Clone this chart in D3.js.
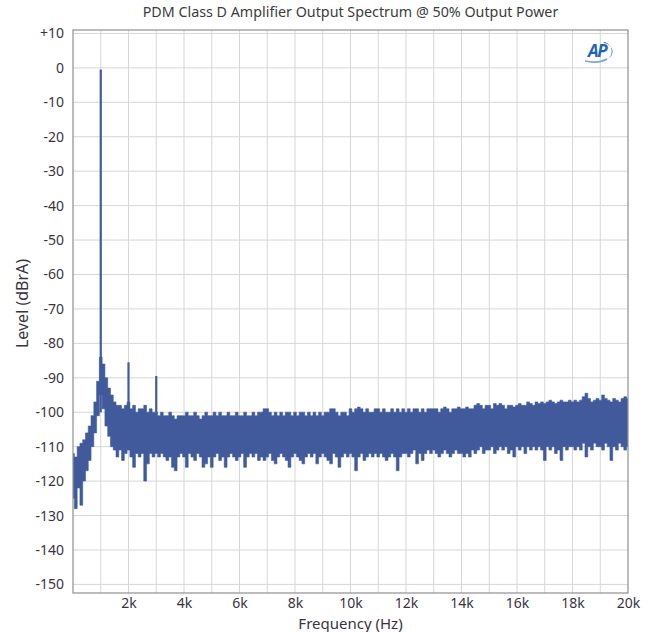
<!DOCTYPE html>
<html>
<head>
<meta charset="utf-8">
<script src="https://cdn.jsdelivr.net/npm/d3@7"></script>
<style>
  body { margin: 0; background: #fff; }
  svg text { font-family: "Noto Sans", "Open Sans", sans-serif; }
</style>
</head>
<body>
<div id="chart"></div>
<script>
// spectrum: one upper and one lower envelope value per 100 Hz bin
const binHz = 100;
const upperDb = [
  -112, -113, -110, -109, -108, -106, -104, -101, -97, -91,
  -84, -86, -90, -93, -95, -97, -98, -98, -99, -98,
  -97, -99, -98, -100, -99, -99, -98, -100, -99, -100,
  -100, -101, -100, -101, -101, -100, -101, -102, -101, -101,
  -101, -100, -101, -101, -100, -101, -102, -101, -100, -101,
  -101, -100, -101, -100, -101, -101, -100, -101, -101, -100,
  -101, -101, -100, -101, -101, -100, -101, -100, -100, -99,
  -99, -100, -101, -100, -101, -100, -101, -100, -100, -101,
  -100, -101, -100, -100, -101, -100, -101, -100, -101, -100,
  -101, -100, -100, -99, -99, -100, -101, -100, -100, -101,
  -99, -100, -99, -98.5, -99, -100, -99, -100, -100, -99,
  -99, -100, -99, -100, -100, -99, -100, -99, -100, -99,
  -100, -99, -100, -99, -99, -100, -99, -100, -99, -99,
  -99, -99, -100, -99, -98.5, -99, -100, -99, -99, -98.5,
  -99, -99, -98.5, -99, -99, -98, -97.5, -98, -99, -98,
  -98, -99, -97.5, -98, -97.5, -98, -99, -98, -98, -98.5,
  -98, -97.5, -98, -98, -97, -97.5, -98, -97, -97.5, -97,
  -97.5, -97, -96.5, -97, -97.5, -97, -96.5, -97, -97, -96.5,
  -97, -96.5, -97, -96.5, -95.5, -94.5, -96, -97, -96.5, -96,
  -96.5, -95, -96, -96.5, -97, -96, -96.5, -97, -96, -95.5,
  -96
];
const lowerDb = [
  -125, -128, -122, -127, -120, -117, -114, -110, -106, -101,
  -95, -99, -104, -107, -110, -111, -113, -111, -114, -112,
  -111, -113, -116, -112, -113, -112, -120, -115, -112, -113,
  -112, -113, -112, -113, -114, -113, -116, -117, -113, -112,
  -113, -116, -112, -113, -114, -112, -113, -116, -115, -113,
  -116, -113, -112, -114, -113, -116, -113, -112, -113, -114,
  -113, -112, -116, -113, -112, -113, -112, -114, -113, -114,
  -113, -112, -114, -115, -113, -112, -113, -114, -116, -113,
  -112, -113, -114, -115, -113, -112, -113, -112, -115, -113,
  -112, -113, -114, -115, -112, -113, -116, -113, -112, -113,
  -112, -113, -117, -113, -112, -114, -113, -112, -113, -112,
  -113, -112, -113, -114, -113, -112, -113, -117, -113, -112,
  -112, -113, -112, -111, -115, -112, -114, -112, -111, -112,
  -111, -112, -113, -112, -111, -112, -113, -112, -111, -112,
  -112, -113, -112, -113, -111, -112, -111, -110, -112, -111,
  -111, -110, -112, -111, -110, -111, -110, -112, -111, -113,
  -110, -111, -110, -112, -110, -111, -110, -111, -110, -111,
  -114, -110, -111, -110, -112, -111, -114, -110, -111, -110,
  -110, -111, -110, -111, -109, -113, -110, -111, -109, -110,
  -110, -111, -109, -110, -114, -110, -111, -109, -110, -111,
  -110
];
// fundamental and harmonics
const spikeHz = [1000, 2000, 3000];
const spikeDb = [-0.5, -85.5, -89.5];

const xTicks = [2000, 4000, 6000, 8000, 10000, 12000, 14000, 16000, 18000, 20000];
const xTickLabels = ["2k", "4k", "6k", "8k", "10k", "12k", "14k", "16k", "18k", "20k"];
const yTicks = [10, 0, -10, -20, -30, -40, -50, -60, -70, -80, -90, -100, -110, -120, -130, -140, -150];
const yTickLabels = ["+10", "0", "-10", "-20", "-30", "-40", "-50", "-60", "-70", "-80", "-90", "-100", "-110", "-120", "-130", "-140", "-150"];

const width = 656, height = 632;
const plot = { left: 73, right: 628, top: 30, bottom: 593 };
const traceColor = "#405a9c";
const labelColor = "#3a3342";

const svg = d3.select("#chart").append("svg")
    .attr("width", width)
    .attr("height", height);

const x = d3.scaleLinear().domain([0, 20000]).range([plot.left, plot.right]);
const y = d3.scaleLinear().domain([-152.5, 11]).range([plot.bottom, plot.top]);

// grid
const grid = svg.append("g").attr("class", "grid");
grid.selectAll(".vgrid")
    .data(d3.range(1000, 20000, 1000))
    .enter().append("line")
    .attr("x1", d => x(d)).attr("x2", d => x(d))
    .attr("y1", plot.top).attr("y2", plot.bottom)
    .attr("stroke", "#d6d6d6").attr("stroke-width", 1);
grid.selectAll(".hgrid")
    .data(yTicks)
    .enter().append("line")
    .attr("x1", plot.left).attr("x2", plot.right)
    .attr("y1", d => y(d)).attr("y2", d => y(d))
    .attr("stroke", "#d6d6d6").attr("stroke-width", 1);

svg.append("clipPath").attr("id", "clip")
    .append("rect")
    .attr("x", plot.left).attr("y", plot.top)
    .attr("width", plot.right - plot.left).attr("height", plot.bottom - plot.top);

const bins = upperDb.map((u, i) => ({ f: i * binHz, hi: u, lo: lowerDb[i] }));

const area = d3.area()
    .x(d => x(d.f))
    .y0(d => y(d.lo))
    .y1(d => y(d.hi))
    .curve(d3.curveStep);

const trace = svg.append("g").attr("clip-path", "url(#clip)");
trace.append("path")
    .datum(bins)
    .attr("d", area)
    .attr("fill", traceColor)
    .attr("stroke", traceColor)
    .attr("stroke-width", 0.6);

trace.selectAll(".spike")
    .data(spikeHz.map((f, i) => ({ f: f, db: spikeDb[i] })))
    .enter().append("line")
    .attr("x1", d => x(d.f)).attr("x2", d => x(d.f))
    .attr("y1", d => y(-100))
    .attr("y2", d => y(d.db))
    .attr("stroke", traceColor)
    .attr("stroke-width", 2.2);

// frame
svg.append("rect")
    .attr("x", plot.left).attr("y", plot.top)
    .attr("width", plot.right - plot.left).attr("height", plot.bottom - plot.top)
    .attr("fill", "none")
    .attr("stroke", "#8f8f8f")
    .attr("stroke-width", 1.2);

// axes, no tick marks
const xAxis = svg.append("g")
    .attr("transform", `translate(0, ${plot.bottom})`)
    .call(d3.axisBottom(x).tickValues(xTicks).tickSize(0).tickPadding(5)
        .tickFormat((d, i) => xTickLabels[i]));
const yAxis = svg.append("g")
    .attr("transform", `translate(${plot.left}, 0)`)
    .call(d3.axisLeft(y).tickValues(yTicks).tickSize(0).tickPadding(9)
        .tickFormat((d, i) => yTickLabels[i]));
[xAxis, yAxis].forEach(g => {
    g.select(".domain").remove();
    g.selectAll("text")
        .attr("fill", labelColor)
        .style("font-family", "'Noto Sans', sans-serif")
        .style("font-size", "14px");
});

svg.append("text")
    .attr("x", (plot.left + plot.right) / 2)
    .attr("y", 17)
    .attr("text-anchor", "middle")
    .attr("fill", "#3c3c3c")
    .style("font-size", "14.3px")
    .text("PDM Class D Amplifier Output Spectrum @ 50% Output Power");

svg.append("text")
    .attr("x", (plot.left + plot.right) / 2)
    .attr("y", 629)
    .attr("text-anchor", "middle")
    .attr("fill", labelColor)
    .style("font-size", "15px")
    .text("Frequency (Hz)");

svg.append("text")
    .attr("transform", `translate(28, ${(plot.top + plot.bottom) / 2 - 8}) rotate(-90)`)
    .attr("text-anchor", "middle")
    .attr("fill", labelColor)
    .style("font-size", "16px")
    .text("Level (dBrA)");

// AP logo
const logo = svg.append("g").attr("transform", "translate(598, 51)");
logo.append("text")
    .attr("x", -1).attr("y", 6)
    .attr("text-anchor", "middle")
    .attr("fill", "#2463b4")
    .style("font-size", "17px")
    .style("font-weight", "bold")
    .style("font-style", "italic")
    .style("letter-spacing", "-1.5px")
    .text("AP");
logo.append("path")
    .attr("d", "M7,-9 A11,10 0 0 1 8,9 L5,9 A9,8 0 0 0 5,-8 Z")
    .attr("fill", "#2463b4");
logo.append("path")
    .attr("d", "M-13,10 Q0,13 9,8")
    .attr("fill", "none")
    .attr("stroke", "#7aa5d8")
    .attr("stroke-width", 1.5);
</script>
</body>
</html>
